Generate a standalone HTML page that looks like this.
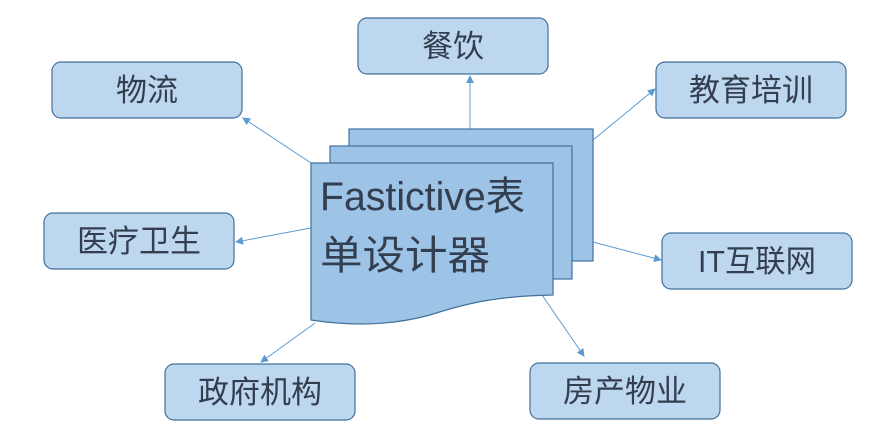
<!DOCTYPE html>
<html><head><meta charset="utf-8"><style>
body{margin:0;background:#fff;}
svg text{font-family:"Liberation Sans","Noto Sans CJK SC",sans-serif;fill:#333f50;}
</style></head><body>
<svg width="893" height="440" viewBox="0 0 893 440" xmlns="http://www.w3.org/2000/svg">
<defs><marker id="a" markerWidth="8" markerHeight="8" refX="7" refY="4" orient="auto" markerUnits="userSpaceOnUse"><path d="M0,0 L8,4 L0,8 Z" fill="#5b9bd5"/></marker></defs>
<g stroke="#5b9bd5" stroke-width="1" marker-end="url(#a)">
<line x1="311" y1="163" x2="243" y2="118"/>
<line x1="470" y1="129" x2="470" y2="76"/>
<line x1="593" y1="140" x2="655" y2="89"/>
<line x1="311" y1="228" x2="236" y2="242"/>
<line x1="593" y1="242" x2="661" y2="260"/>
<line x1="315" y1="323" x2="261" y2="362"/>
<line x1="542" y1="295" x2="584" y2="356"/>
</g>
<g fill="#bdd7ee" stroke="#41719c" stroke-width="1.2">
<rect x="52" y="62" width="190" height="56" rx="9"/>
<rect x="358" y="18" width="190" height="56" rx="9"/>
<rect x="656" y="62" width="190" height="56" rx="9"/>
<rect x="44" y="213" width="190" height="56" rx="9"/>
<rect x="662" y="233" width="190" height="56" rx="9"/>
<rect x="165" y="364" width="190" height="56" rx="9"/>
<rect x="530" y="363" width="190" height="56" rx="9"/>
</g>
<g font-size="31" text-anchor="middle">
<text x="147" y="101">物流</text>
<text x="453" y="57">餐饮</text>
<text x="751" y="101">教育培训</text>
<text x="139" y="252">医疗卫生</text>
<text x="757" y="272" textLength="118" lengthAdjust="spacingAndGlyphs">IT互联网</text>
<text x="260" y="403">政府机构</text>
<text x="625" y="402">房产物业</text>
</g>
<g fill="#9dc3e6" stroke="#41719c" stroke-width="1.2">
<rect x="349" y="129" width="244" height="132"/>
<rect x="330" y="146" width="242" height="133"/>
<path d="M311,163 H553 V295 C500,296 470,302 430,315 C390,326 350,326 311,320 Z"/>
</g>
<g font-size="40">
<text x="320" y="210" textLength="205" lengthAdjust="spacingAndGlyphs">Fastictive表</text>
<text x="320" y="269" textLength="170" lengthAdjust="spacingAndGlyphs">单设计器</text>
</g>
</svg>
</body></html>
